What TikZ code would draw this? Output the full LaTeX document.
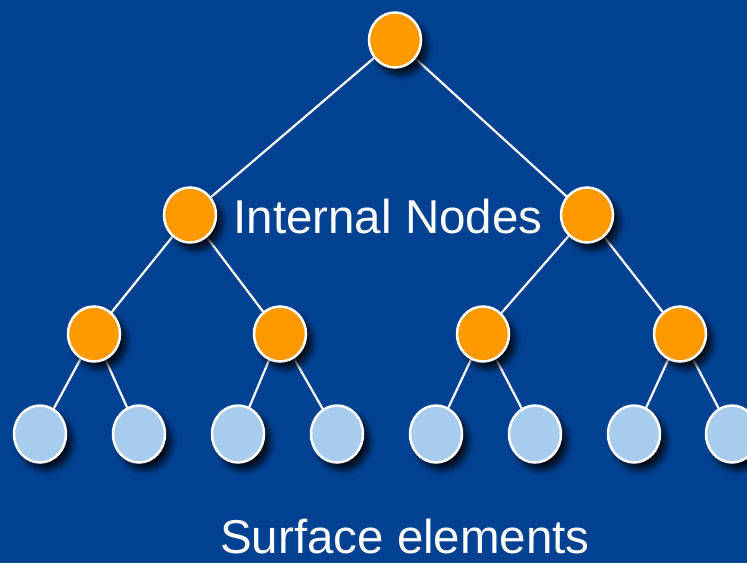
\documentclass[tikz,border=0pt]{standalone}
\usepackage{fontspec}
\setmainfont{Liberation Sans}
\usetikzlibrary{shapes.geometric,shadows.blur}
\definecolor{bgblue}{RGB}{0,65,145}
\definecolor{orng}{RGB}{255,153,0}
\definecolor{lblue}{RGB}{168,204,238}
\tikzset{
  inner/.style={ellipse,draw=white,line width=2.5pt,fill=orng,minimum width=52pt,minimum height=55pt,inner sep=0pt,
    blur shadow={shadow xshift=6pt,shadow yshift=-7pt,shadow blur steps=10,shadow blur radius=6pt,shadow opacity=85}},
  leaf/.style={inner,fill=lblue,minimum height=57pt},
  edge/.style={draw=white,line width=2.2pt},
  lbl/.style={text=white,font=\fontsize{47.5}{47.5}\selectfont,inner sep=0pt}
}
\begin{document}
\begin{tikzpicture}[x=1pt,y=-1pt]
\fill[bgblue] (0,0) rectangle (747,563);
\useasboundingbox (0,0) rectangle (747,563);
% edges
\coordinate (r) at (395,40);
\coordinate (a) at (190,215);
\coordinate (b) at (587,215);
\coordinate (a1) at (94,334);
\coordinate (a2) at (280,334);
\coordinate (b1) at (483,334);
\coordinate (b2) at (680,334);
\foreach \i/\x in {1/40,2/139,3/238,4/337,5/436,6/535,7/634,8/732}{\coordinate (l\i) at (\x,434);}
\draw[edge] (r) -- (a) (r) -- (b) (a) -- (a1) (a) -- (a2) (b) -- (b1) (b) -- (b2)
  (a1) -- (l1) (a1) -- (l2) (a2) -- (l3) (a2) -- (l4)
  (b1) -- (l5) (b1) -- (l6) (b2) -- (l7) (b2) -- (l8);
% nodes
\foreach \n in {l1,l2,l3,l4,l5,l6,l7,l8}{\node[leaf] (N\n) at (\n) {};}
\foreach \n in {a1,a2,b1,b2,a,b,r}{\node[inner] (N\n) at (\n) {};}
\node[lbl,anchor=base] (t1) at (388,233) {Internal Nodes};
\node[lbl,anchor=base] (t2) at (405,553) {Surface elements};
\end{tikzpicture}
\end{document}
